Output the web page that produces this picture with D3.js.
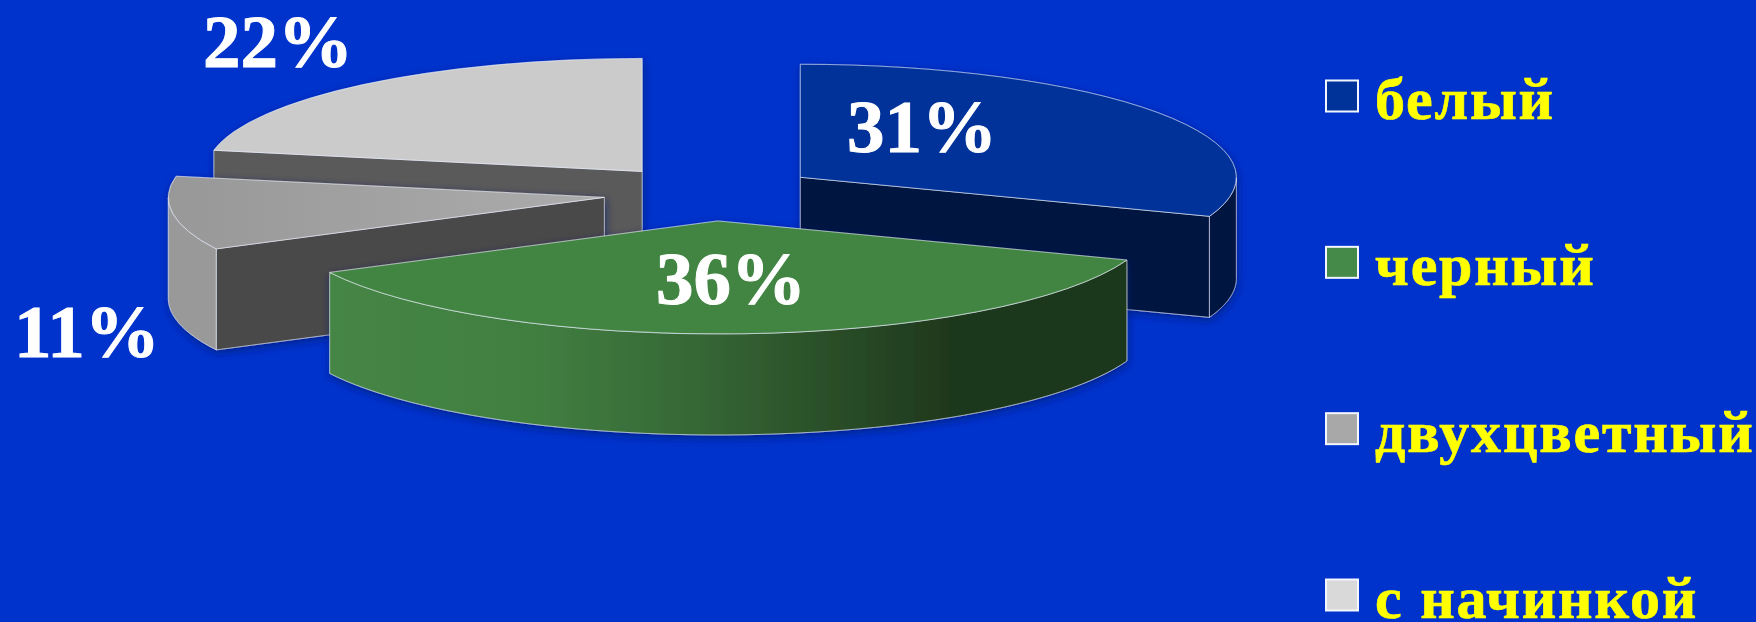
<!DOCTYPE html>
<html lang="ru">
<head>
<meta charset="utf-8">
<title>Круговая диаграмма</title>
<script src="https://cdn.jsdelivr.net/npm/d3@7/dist/d3.min.js"></script>
<style>
  html, body { margin: 0; padding: 0; background: #0033cc; overflow: hidden; }
  svg { display: block; }
  text { font-family: "Liberation Serif", serif; font-weight: 700; }
</style>
</head>
<body>
<script>
// Chart data
const categories = ["белый", "черный", "двухцветный", "с начинкой"];
const shares = [31, 36, 11, 22];

// Colours per slice: top face, radial wall, legend swatch
const topColors = ["#003399", "#428542", "#a0a0a0", "#cbcbcb"];
const wallColors = ["#001340", "#1f351b", "#484848", "#5a5a5a"];
const swatchColors = ["#003399", "#458a48", "#a8a8a8", "#d9d9d9"];

// Percentage label anchors (baseline start), per slice
const labelX = [847, 656, 14, 203];
const labelY = [152, 304, 357, 67];

const width = 1756, height = 622;
const centre = { x: 711, y: 193 };
const rx = 436, ry = 113, depth = 101, explode = 108;
// Perspective of the tilted disc: angles on the near half open up slightly
const tilt = 2.0 * Math.PI / 180;
const view = a => (a > Math.PI / 2 && a < Math.PI * 1.5) ? a + tilt * Math.sin(2 * a) : a;

const svg = d3.select("body").append("svg")
  .attr("width", width).attr("height", height);

svg.append("rect").attr("width", width).attr("height", height).attr("fill", "#0033cc");

const defs = svg.append("defs");

const shadow = defs.append("filter").attr("id", "soft-shadow")
  .attr("x", "-5%").attr("y", "-5%").attr("width", "110%").attr("height", "115%");
shadow.append("feDropShadow")
  .attr("dx", 1).attr("dy", 3).attr("stdDeviation", 4)
  .attr("flood-color", "#001a70").attr("flood-opacity", 0.7);

const greenWall = defs.append("linearGradient").attr("id", "green-wall")
  .attr("gradientUnits", "userSpaceOnUse")
  .attr("x1", 333).attr("x2", 1128).attr("y1", 0).attr("y2", 0);
[[0, "#458545"], [0.25, "#417f41"], [0.48, "#346434"], [0.78, "#1f371c"], [1, "#1f371c"]]
  .forEach(([o, c]) => greenWall.append("stop").attr("offset", o).attr("stop-color", c));

const greyTop = defs.append("linearGradient").attr("id", "grey-top")
  .attr("x1", 0).attr("x2", 1).attr("y1", 0).attr("y2", 0);
[[0, "#989898"], [1, "#acacac"]]
  .forEach(([o, c]) => greyTop.append("stop").attr("offset", o).attr("stop-color", c));

const slices = d3.pie().sort(null).value(d => d)(shares).map((s, i) => {
  const mid = (s.startAngle + s.endAngle) / 2;
  return {
    ...s, i,
    startAngle: view(s.startAngle),
    endAngle: view(s.endAngle),
    cx: centre.x + explode * Math.sin(mid),
    cy: centre.y - explode * Math.cos(mid) * ry / rx
  };
});

const arc = d3.arc().innerRadius(0).outerRadius(rx);
const line = d3.line();

// A point of the slice's rim, on the flattened ellipse
const rim = (s, a, drop = 0) => [s.cx + rx * Math.sin(a), s.cy - ry * Math.cos(a) + drop];

// The curved side of a slice, limited to the half of the rim facing the viewer
function outerWall(s) {
  const a0 = Math.max(s.startAngle, Math.PI / 2);
  const a1 = Math.min(s.endAngle, Math.PI * 1.5);
  if (a1 <= a0) return null;
  const steps = d3.range(0, 61).map(k => a0 + (a1 - a0) * k / 60);
  const upper = steps.map(a => rim(s, a));
  const lower = steps.slice().reverse().map(a => rim(s, a, depth));
  return line(upper.concat(lower)) + "Z";
}

// The flat cut of a slice running from its centre out to the rim
function radialWall(s, a) {
  const p = rim(s, a);
  return line([[s.cx, s.cy], p, [p[0], p[1] + depth], [s.cx, s.cy + depth]]) + "Z";
}

const edge = "rgba(235,240,255,0.62)";
const outerFill = ["#001340", "url(#green-wall)", "#999999", "none"];
const cutAngle = [s => s.endAngle, null, s => s.startAngle, s => s.startAngle];
const topFill = (s) => s.i === 2 ? "url(#grey-top)" : topColors[s.i];

// Back slices are painted first so the nearer ones overlap them
const order = [3, 0, 2, 1];
const group = svg.append("g").selectAll("g")
  .data(order.map(i => slices[i]))
  .join("g")
  .attr("filter", "url(#soft-shadow)");

group.each(function (s) {
  const g = d3.select(this);
  if (cutAngle[s.i]) {
    g.append("path").attr("d", radialWall(s, cutAngle[s.i](s)))
      .attr("fill", wallColors[s.i]).attr("stroke", edge).attr("stroke-width", 1);
  }
  const side = outerWall(s);
  if (side) {
    g.append("path").attr("d", side)
      .attr("fill", outerFill[s.i]).attr("stroke", edge).attr("stroke-width", 1);
  }
  g.append("path")
    .attr("d", arc(s))
    .attr("transform", `translate(${s.cx},${s.cy}) scale(1,${ry / rx})`)
    .attr("fill", topFill(s))
    .attr("stroke", "rgba(240,245,255,0.6)")
    .attr("stroke-width", 1)
    .attr("vector-effect", "non-scaling-stroke");
});

// Percentage labels
svg.append("g").selectAll("text")
  .data(shares)
  .join("text")
  .attr("x", (d, i) => labelX[i])
  .attr("y", (d, i) => labelY[i])
  .attr("fill", "#ffffff")
  .attr("stroke", "#ffffff")
  .attr("stroke-width", 1)
  .attr("font-size", 75)
  .text(d => `${d}%`);

// Legend
const legendY = d3.scalePoint().domain(categories).range([96, 595]);
const legend = svg.append("g").selectAll("g")
  .data(categories)
  .join("g")
  .attr("transform", d => `translate(1325,${legendY(d)})`);

legend.append("rect")
  .attr("x", 1).attr("y", -15.5).attr("width", 32).attr("height", 31)
  .attr("fill", (d, i) => swatchColors[i])
  .attr("stroke", "#f4f6ff").attr("stroke-width", 2);

legend.append("text")
  .attr("x", 50).attr("y", 23)
  .attr("fill", "#ffff00")
  .attr("stroke", "#ffff00")
  .attr("stroke-width", 0.7)
  .attr("font-size", 60)
  .attr("letter-spacing", 1.8)
  .text(d => d);
</script>
</body>
</html>
